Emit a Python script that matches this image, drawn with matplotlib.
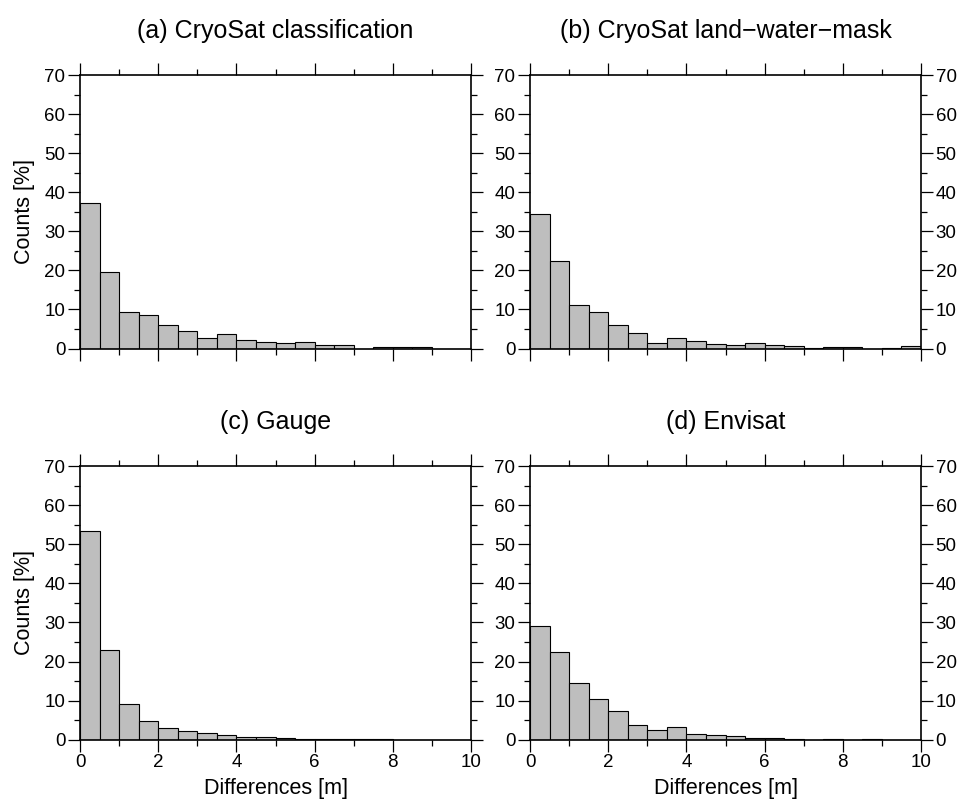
import numpy as np
import matplotlib
matplotlib.use("Agg")
import matplotlib.pyplot as plt
from matplotlib.ticker import MultipleLocator

plt.rcParams["font.family"] = ["Liberation Sans", "DejaVu Sans"]

# 20 bins of 0.5 m between 0 and 10 m
bin_edges = np.arange(0.0, 10.0, 0.5)
bin_width = 0.5

titles = ["(a) CryoSat classification", "(b) CryoSat land\u2212water\u2212mask",
          "(c) Gauge", "(d) Envisat"]

counts_a = [37.2, 19.6, 9.3, 8.7, 5.9, 4.4, 2.8, 3.6, 2.1, 1.7,
            1.3, 1.7, 0.8, 0.8, 0.0, 0.3, 0.3, 0.3, 0.0, 0.0]
counts_b = [34.4, 22.5, 11.2, 9.4, 6.1, 3.9, 1.5, 2.7, 2.0, 1.2,
            0.8, 1.4, 0.8, 0.7, 0.1, 0.4, 0.5, 0.0, 0.2, 0.7]
counts_c = [53.4, 22.9, 9.1, 4.7, 3.1, 2.1, 1.6, 1.1, 0.8, 0.6,
            0.4, 0.3, 0.25, 0.15, 0.1, 0.1, 0.05, 0.05, 0.05, 0.05]
counts_d = [29.2, 22.5, 14.6, 10.4, 7.3, 3.8, 2.6, 3.3, 1.45, 1.2,
            0.85, 0.5, 0.5, 0.3, 0.0, 0.15, 0.0, 0.15, 0.0, 0.0]

BAR_FILL = "#bebebe"

W, H = 960, 802
fig = plt.figure(figsize=(W / 100, H / 100), dpi=100)

# axes boxes in pixels: left, top (width and height shared)
pw, ph = 391, 273.5
boxes = [(80, 75), (530, 75), (80, 466.2), (530, 466.2)]
data = [counts_a, counts_b, counts_c, counts_d]

for i, ((x0, y0), counts, title) in enumerate(zip(boxes, data, titles)):
    ax = fig.add_axes([x0 / W, 1 - (y0 + ph) / H, pw / W, ph / H])
    ax.bar(bin_edges, counts, width=bin_width, align="edge",
           color=BAR_FILL, edgecolor="black", linewidth=0.8)
    ax.set_xlim(0, 10)
    ax.set_ylim(0, 70)
    ax.xaxis.set_major_locator(MultipleLocator(2))
    ax.xaxis.set_minor_locator(MultipleLocator(1))
    ax.yaxis.set_major_locator(MultipleLocator(10))
    ax.yaxis.set_minor_locator(MultipleLocator(5))
    for s in ax.spines.values():
        s.set_linewidth(1.2)
    ax.tick_params(which="major", direction="out", length=8.5, width=0.9,
                   top=True, right=True, labelsize=13.5, pad=2)
    ax.tick_params(which="minor", direction="out", length=4.3, width=0.9,
                   top=True, right=True)
    right_col = i % 2 == 1
    bottom_row = i >= 2
    ax.tick_params(labelleft=True, labelright=right_col,
                   labelbottom=bottom_row, labeltop=False)
    ax.set_title(title, fontsize=18, pad=27)
    if not right_col:
        ax.set_ylabel("Counts [%]", fontsize=15.5, labelpad=7)
    if bottom_row:
        ax.set_xlabel("Differences [m]", fontsize=15.5, labelpad=5)

fig.savefig("out.png", dpi=100)
